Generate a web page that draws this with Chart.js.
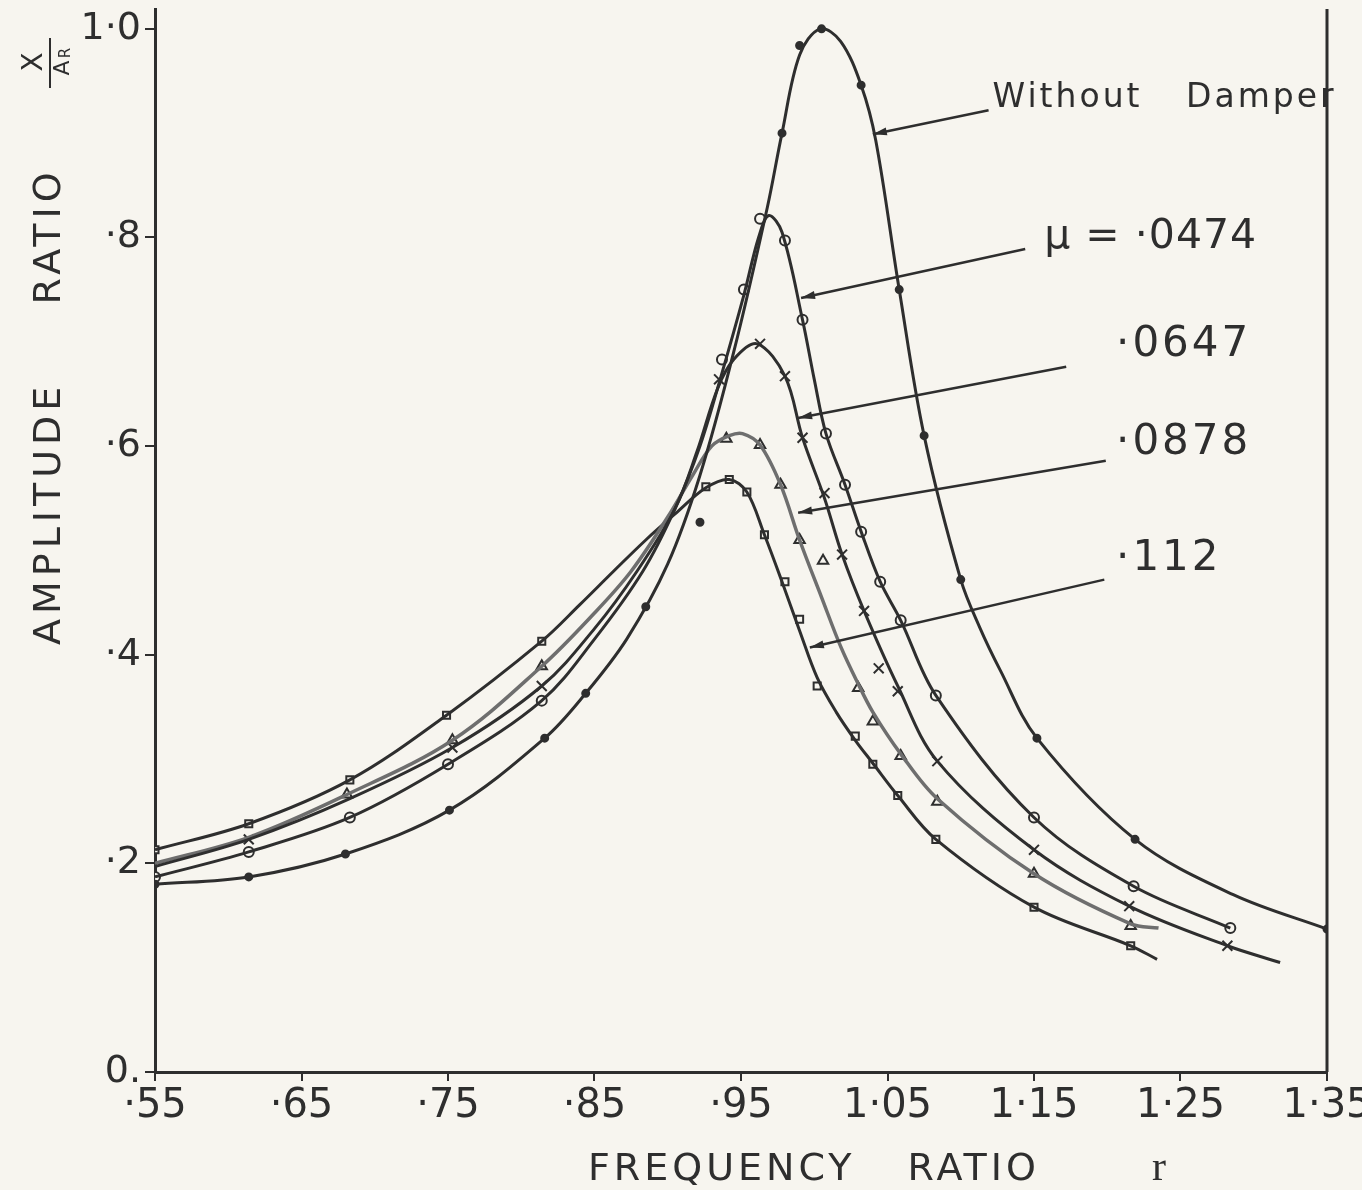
<!DOCTYPE html>
<html>
<head>
<meta charset="utf-8">
<title>Amplitude ratio vs frequency ratio</title>
<script src="https://cdn.jsdelivr.net/npm/chart.js@4.4.1/dist/chart.umd.min.js"></script>
<style>
  html, body { margin: 0; padding: 0; background: #f7f5ef; }
  #wrap { width: 1362px; height: 1190px; }
</style>
</head>
<body>
<div id="wrap"><canvas id="chart" width="1362" height="1190"></canvas></div>
<script>
(function () {
    "use strict";

    // Axis ticks
    var freqTicks = [0.55, 0.65, 0.75, 0.85, 0.95, 1.05, 1.15, 1.25, 1.35];
    var freqLabels = ['·55', '·65', '·75', '·85', '·95', '1·05', '1·15', '1·25', '1·35'];
    var ampTicks = [0, 0.2, 0.4, 0.6, 0.8, 1.0];
    var ampLabels = ['0.', '·2', '·4', '·6', '·8', '1·0'];

    // Without damper - curve and measured points
    var noDamperR   = [0.55, 0.614, 0.68, 0.751, 0.816, 0.844, 0.872, 0.9, 0.922, 0.945, 0.968, 0.978, 0.99, 1.004, 1.018, 1.032, 1.042, 1.058, 1.075, 1.1, 1.113, 1.127, 1.152, 1.219, 1.286, 1.35];
    var noDamperAmp = [0.18, 0.187, 0.209, 0.251, 0.32, 0.363, 0.415, 0.487, 0.572, 0.69, 0.829, 0.9, 0.975, 1.0, 0.988, 0.946, 0.893, 0.75, 0.61, 0.472, 0.426, 0.385, 0.32, 0.223, 0.17, 0.137];
    var noDamperPtR   = [0.55, 0.614, 0.68, 0.751, 0.816, 0.844, 0.885, 0.922, 0.978, 0.99, 1.005, 1.032, 1.058, 1.075, 1.1, 1.152, 1.219, 1.35];
    var noDamperPtAmp = [0.18, 0.187, 0.209, 0.251, 0.32, 0.363, 0.446, 0.527, 0.9, 0.984, 1.0, 0.946, 0.75, 0.61, 0.472, 0.32, 0.223, 0.137];

    // mu = .0474 (circles)
    var mu1R   = [0.55, 0.614, 0.683, 0.75, 0.814, 0.85, 0.883, 0.905, 0.922, 0.937, 0.952, 0.962, 0.969, 0.978, 0.992, 1.0, 1.008, 1.021, 1.032, 1.045, 1.059, 1.083, 1.15, 1.218, 1.284];
    var mu1Amp = [0.187, 0.211, 0.244, 0.295, 0.356, 0.415, 0.48, 0.54, 0.6, 0.67, 0.745, 0.8, 0.821, 0.805, 0.721, 0.664, 0.612, 0.563, 0.518, 0.47, 0.433, 0.361, 0.244, 0.178, 0.138];
    var mu1PtR   = [0.55, 0.614, 0.683, 0.75, 0.814, 0.937, 0.952, 0.963, 0.98, 0.992, 1.008, 1.021, 1.032, 1.045, 1.059, 1.083, 1.15, 1.218, 1.284];
    var mu1PtAmp = [0.187, 0.211, 0.244, 0.295, 0.356, 0.683, 0.75, 0.818, 0.797, 0.721, 0.612, 0.563, 0.518, 0.47, 0.433, 0.361, 0.244, 0.178, 0.138];

    // mu = .0647 (crosses)
    var mu2R   = [0.55, 0.614, 0.683, 0.753, 0.814, 0.85, 0.879, 0.905, 0.92, 0.934, 0.945, 0.961, 0.98, 0.992, 1.007, 1.019, 1.034, 1.057, 1.084, 1.15, 1.215, 1.282, 1.318];
    var mu2Amp = [0.197, 0.223, 0.262, 0.311, 0.37, 0.425, 0.48, 0.54, 0.595, 0.655, 0.683, 0.698, 0.667, 0.608, 0.55, 0.496, 0.442, 0.37, 0.298, 0.213, 0.159, 0.121, 0.105];
    var mu2PtR   = [0.614, 0.753, 0.814, 0.935, 0.963, 0.98, 0.992, 1.007, 1.019, 1.034, 1.044, 1.057, 1.084, 1.15, 1.215, 1.282];
    var mu2PtAmp = [0.223, 0.311, 0.37, 0.664, 0.698, 0.667, 0.608, 0.555, 0.496, 0.442, 0.387, 0.365, 0.298, 0.213, 0.159, 0.121];

    // mu = .0878 (triangles)
    var mu3R   = [0.55, 0.614, 0.681, 0.753, 0.814, 0.85, 0.875, 0.9, 0.917, 0.93, 0.942, 0.951, 0.963, 0.977, 0.99, 1.005, 1.018, 1.03, 1.04, 1.059, 1.084, 1.15, 1.216, 1.235];
    var mu3Amp = [0.2, 0.225, 0.266, 0.318, 0.389, 0.44, 0.48, 0.532, 0.572, 0.6, 0.61, 0.612, 0.601, 0.563, 0.51, 0.455, 0.408, 0.372, 0.345, 0.305, 0.262, 0.19, 0.142, 0.138];
    var mu3PtR   = [0.681, 0.753, 0.814, 0.94, 0.963, 0.977, 0.99, 1.006, 1.03, 1.04, 1.059, 1.084, 1.15, 1.216];
    var mu3PtAmp = [0.266, 0.318, 0.389, 0.607, 0.601, 0.563, 0.51, 0.49, 0.368, 0.336, 0.303, 0.259, 0.19, 0.14];

    // mu = .112 (squares)
    var mu4R   = [0.55, 0.614, 0.683, 0.749, 0.814, 0.84, 0.863, 0.885, 0.905, 0.926, 0.942, 0.954, 0.966, 0.978, 0.99, 1.002, 1.015, 1.028, 1.04, 1.057, 1.083, 1.15, 1.216, 1.234];
    var mu4Amp = [0.213, 0.238, 0.28, 0.342, 0.413, 0.448, 0.48, 0.51, 0.535, 0.56, 0.568, 0.556, 0.515, 0.47, 0.423, 0.378, 0.345, 0.318, 0.296, 0.265, 0.223, 0.158, 0.121, 0.108];
    var mu4PtR   = [0.55, 0.614, 0.683, 0.749, 0.814, 0.926, 0.942, 0.954, 0.966, 0.98, 0.99, 1.002, 1.028, 1.04, 1.057, 1.083, 1.15, 1.216];
    var mu4PtAmp = [0.213, 0.238, 0.28, 0.342, 0.413, 0.561, 0.568, 0.556, 0.515, 0.47, 0.434, 0.37, 0.322, 0.295, 0.265, 0.223, 0.158, 0.121];

    var paper = '#f7f5ef';
    var ink = '#2e2e2e';
    var font = '"DejaVu Sans", sans-serif';

    // Curve labels: text anchor, arrow tail and arrow tip in data units
    var notes = [
        { text: 'Without Damper', at: [1.1217, 0.925], tail: [1.119, 0.922], tip: [1.040, 0.899], size: 33, gap: 30, spacing: 3 },
        { text: 'μ = ·0474', at: [1.157, 0.79], tail: [1.144, 0.789], tip: [0.991, 0.742], size: 41, gap: 0, spacing: 1 },
        { text: '·0647', at: [1.206, 0.686], tail: [1.172, 0.676], tip: [0.989, 0.627], size: 42, gap: 0, spacing: 3 },
        { text: '·0878', at: [1.206, 0.592], tail: [1.199, 0.586], tip: [0.989, 0.536], size: 42, gap: 0, spacing: 3 },
        { text: '·112', at: [1.206, 0.481], tail: [1.198, 0.472], tip: [0.997, 0.407], size: 42, gap: 0, spacing: 3 }
    ];

    var pts = function (xs, ys) {
        return xs.map(function (x, i) { return { x: x, y: ys[i] }; });
    };

    var curve = function (xs, ys, color, width) {
        return {
            data: pts(xs, ys),
            showLine: true,
            borderColor: color,
            borderWidth: width,
            pointRadius: 0,
            tension: 0.35,
            fill: false
        };
    };

    var marks = function (xs, ys, style, radius, fillColor) {
        return {
            data: pts(xs, ys),
            showLine: false,
            pointStyle: style,
            pointRadius: radius,
            borderWidth: 2,
            borderColor: ink,
            backgroundColor: fillColor
        };
    };

    // Paper background, frame, curve labels and axis titles
    var decorations = {
        id: 'decorations',
        beforeDraw: function (chart) {
            var ctx = chart.ctx;
            ctx.save();
            ctx.fillStyle = paper;
            ctx.fillRect(0, 0, chart.width, chart.height);
            ctx.restore();
        },
        afterDraw: function (chart) {
            var ctx = chart.ctx;
            var xs = chart.scales.x, ys = chart.scales.y;
            var area = chart.chartArea;
            ctx.save();

            // right frame line
            ctx.strokeStyle = ink;
            ctx.lineWidth = 3;
            ctx.beginPath();
            ctx.moveTo(area.right, area.top);
            ctx.lineTo(area.right, area.bottom);
            ctx.stroke();

            // labels with arrows
            notes.forEach(function (n) {
                var tx = xs.getPixelForValue(n.tail[0]), ty = ys.getPixelForValue(n.tail[1]);
                var px = xs.getPixelForValue(n.tip[0]), py = ys.getPixelForValue(n.tip[1]);
                ctx.strokeStyle = ink;
                ctx.lineWidth = 2.5;
                ctx.beginPath();
                ctx.moveTo(tx, ty);
                ctx.lineTo(px, py);
                ctx.stroke();
                var a = Math.atan2(py - ty, px - tx);
                ctx.fillStyle = ink;
                ctx.beginPath();
                ctx.moveTo(px, py);
                ctx.lineTo(px - 14 * Math.cos(a) + 4 * Math.sin(a), py - 14 * Math.sin(a) - 4 * Math.cos(a));
                ctx.lineTo(px - 14 * Math.cos(a) - 4 * Math.sin(a), py - 14 * Math.sin(a) + 4 * Math.cos(a));
                ctx.closePath();
                ctx.fill();

                ctx.font = n.size + 'px ' + font;
                ctx.textAlign = 'left';
                ctx.textBaseline = 'alphabetic';
                ctx.letterSpacing = n.spacing + 'px';
                ctx.wordSpacing = n.gap + 'px';
                ctx.fillText(n.text, xs.getPixelForValue(n.at[0]), ys.getPixelForValue(n.at[1]));
            });
            ctx.wordSpacing = '0px';

            // x title
            ctx.font = '38px ' + font;
            ctx.letterSpacing = '4px';
            ctx.wordSpacing = '36px';
            ctx.fillText('FREQUENCY RATIO', 588, 1180);
            ctx.wordSpacing = '0px';
            ctx.letterSpacing = '0px';
            ctx.font = '42px "Liberation Serif", serif';
            ctx.fillText('r', 1152, 1180);

            // y title, rotated
            ctx.save();
            ctx.translate(60, 645);
            ctx.rotate(-Math.PI / 2);
            ctx.font = '38px ' + font;
            ctx.letterSpacing = '5px';
            ctx.wordSpacing = '60px';
            ctx.fillText('AMPLITUDE RATIO', 0, 0);
            ctx.restore();

            // X / A_R fraction
            ctx.save();
            ctx.translate(50, 62);
            ctx.rotate(-Math.PI / 2);
            ctx.letterSpacing = '0px';
            ctx.textAlign = 'center';
            ctx.textBaseline = 'middle';
            ctx.font = '28px ' + font;
            ctx.fillText('X', 0, -15);
            ctx.lineWidth = 2;
            ctx.beginPath();
            ctx.moveTo(-26, 0);
            ctx.lineTo(24, 0);
            ctx.stroke();
            ctx.font = '22px ' + font;
            ctx.fillText('A', -6, 13);
            ctx.font = '15px ' + font;
            ctx.fillText('R', 9, 16);
            ctx.restore();

            ctx.restore();
        }
    };

    var ctx1 = document.getElementById('chart').getContext('2d');
    var myChart1 = new Chart(ctx1, {
        type: 'scatter',
        data: {
            datasets: [
                curve(noDamperR, noDamperAmp, ink, 3),
                curve(mu1R, mu1Amp, ink, 3),
                curve(mu2R, mu2Amp, ink, 3),
                curve(mu3R, mu3Amp, '#6e6e6e', 3.5),
                curve(mu4R, mu4Amp, ink, 3),
                marks(noDamperPtR, noDamperPtAmp, 'circle', 3.5, ink),
                marks(mu1PtR, mu1PtAmp, 'circle', 5, paper),
                marks(mu2PtR, mu2PtAmp, 'crossRot', 7, paper),
                marks(mu3PtR, mu3PtAmp, 'triangle', 6, paper),
                marks(mu4PtR, mu4PtAmp, 'rect', 5, paper)
            ]
        },
        options: {
            responsive: false,
            animation: false,
            layout: { padding: { top: 0, right: 35, bottom: 0, left: 0 } },
            plugins: {
                legend: { display: false },
                tooltip: { enabled: false }
            },
            scales: {
                x: {
                    type: 'linear',
                    min: 0.55,
                    max: 1.35,
                    afterBuildTicks: function (s) {
                        s.ticks = freqTicks.map(function (v) { return { value: v }; });
                    },
                    afterFit: function (s) {
                        s.height = 118;
                        s.paddingLeft = 0;
                        s.paddingRight = 0;
                    },
                    ticks: {
                        autoSkip: false,
                        maxRotation: 0,
                        padding: 2,
                        color: ink,
                        font: { family: font, size: 40 },
                        callback: function (v) {
                            var i = freqTicks.findIndex(function (t) { return Math.abs(t - v) < 1e-6; });
                            return i >= 0 ? freqLabels[i] : '';
                        }
                    },
                    grid: { drawOnChartArea: false, drawTicks: true, tickLength: 9, color: ink, lineWidth: 2 },
                    border: { color: ink, width: 3 }
                },
                y: {
                    type: 'linear',
                    min: 0,
                    max: 1.019,
                    afterBuildTicks: function (s) {
                        s.ticks = ampTicks.map(function (v) { return { value: v }; });
                    },
                    afterFit: function (s) {
                        s.width = 155;
                        s.paddingTop = 0;
                        s.paddingBottom = 0;
                    },
                    ticks: {
                        autoSkip: false,
                        padding: 4,
                        color: ink,
                        font: { family: font, size: 38 },
                        callback: function (v) {
                            var i = ampTicks.findIndex(function (t) { return Math.abs(t - v) < 1e-6; });
                            return i >= 0 ? ampLabels[i] : '';
                        }
                    },
                    grid: { drawOnChartArea: false, drawTicks: true, tickLength: 10, color: ink, lineWidth: 2 },
                    border: { color: ink, width: 3 }
                }
            }
        },
        plugins: [decorations]
    });
})();
</script>
</body>
</html>
